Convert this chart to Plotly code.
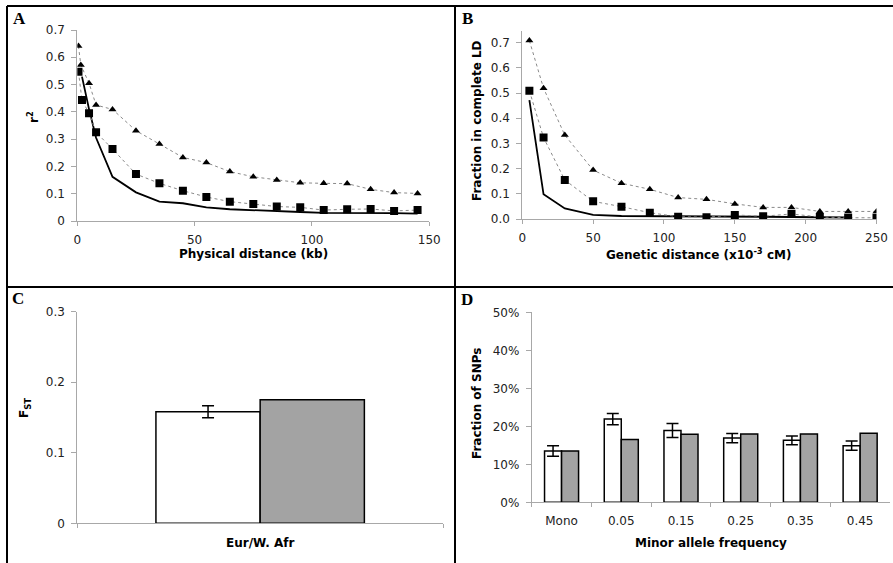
import plotly.graph_objects as go

W, H = 893, 563

# ---------------- Data ----------------
# Panel A: r^2 vs physical distance (kb)
a_tri_x = [0.5, 1.5, 5, 8, 15, 25, 35, 45, 55, 65, 75, 85, 95, 105, 115, 125, 135, 145]
a_tri_y = [0.641, 0.572, 0.505, 0.425, 0.409, 0.331, 0.282, 0.233, 0.214, 0.181, 0.162,
           0.150, 0.140, 0.138, 0.137, 0.116, 0.104, 0.101]
a_sq_x = [0.5, 2, 5, 8, 15, 25, 35, 45, 55, 65, 75, 85, 95, 105, 115, 125, 135, 145]
a_sq_y = [0.547, 0.443, 0.395, 0.325, 0.264, 0.172, 0.138, 0.111, 0.088, 0.071, 0.062,
          0.053, 0.050, 0.040, 0.043, 0.044, 0.037, 0.040]
a_line_x = [2, 5, 8, 15, 25, 35, 45, 55, 65, 75, 85, 95, 105, 115, 125, 135, 145]
a_line_y = [0.529, 0.41, 0.305, 0.162, 0.105, 0.071, 0.065, 0.050, 0.043, 0.039, 0.037,
            0.033, 0.030, 0.030, 0.030, 0.029, 0.027]

# Panel B: fraction in complete LD vs genetic distance
b_x = [5, 15, 30, 50, 70, 90, 110, 130, 150, 170, 190, 210, 230, 250]
b_tri_y = [0.708, 0.519, 0.333, 0.194, 0.142, 0.118, 0.085, 0.078, 0.060, 0.046, 0.046,
           0.030, 0.030, 0.030]
b_sq_y = [0.509, 0.323, 0.155, 0.070, 0.049, 0.025, 0.009, 0.007, 0.016, 0.011, 0.020,
          0.008, 0.005, 0.005]
b_line_x = [5, 15, 30, 50, 70, 90, 110, 130, 150, 170, 190, 210, 230]
b_line_y = [0.472, 0.098, 0.042, 0.016, 0.012, 0.012, 0.010, 0.009, 0.010, 0.009, 0.008,
            0.007, 0.006]

# Panel C: Fst
c_cat = ["Eur/W. Afr"]
c_obs = [0.158]
c_obs_err = [0.0085]
c_sim = [0.175]

# Panel D: MAF spectrum (%)
d_cat = ["Mono", "0.05", "0.15", "0.25", "0.35", "0.45"]
d_obs = [13.5, 21.9, 18.9, 16.9, 16.3, 14.9]
d_obs_err = [1.4, 1.5, 1.85, 1.2, 1.15, 1.2]
d_sim = [13.5, 16.5, 17.9, 18.0, 18.0, 18.2]

# ---------------- Helpers ----------------
def px(v):
    return v / W

def py(v):
    return 1 - v / H

FONT = "DejaVu Sans"
TICKC = "#222222"
AXC = "#a8a8a8"
GRAYBAR = "#a3a3a3"

fig = go.Figure()

def dashed(x, y, xa, ya, sym, size):
    fig.add_trace(go.Scatter(
        x=x, y=y, xaxis=xa, yaxis=ya, mode="lines+markers",
        line=dict(color="#8a8a8a", width=1, dash="3px,3px"),
        marker=dict(symbol=sym, size=size, color="black"),
        showlegend=False, hoverinfo="skip"))

def solid(x, y, xa, ya):
    fig.add_trace(go.Scatter(
        x=x, y=y, xaxis=xa, yaxis=ya, mode="lines",
        line=dict(color="black", width=1.8),
        showlegend=False, hoverinfo="skip"))

# Panel A
solid(a_line_x, a_line_y, "x", "y")
dashed(a_tri_x, a_tri_y, "x", "y", "triangle-up", 7)
dashed(a_sq_x, a_sq_y, "x", "y", "square", 8)

# Panel B
solid(b_line_x, b_line_y, "x2", "y2")
dashed(b_x, b_tri_y, "x2", "y2", "triangle-up", 7)
dashed(b_x, b_sq_y, "x2", "y2", "square", 8)

# Panel C
fig.add_trace(go.Bar(x=c_cat, y=c_obs, xaxis="x3", yaxis="y3", offsetgroup="o",
                     marker=dict(color="white", line=dict(color="black", width=1.5)),
                     error_y=dict(type="data", array=c_obs_err, color="black",
                                  thickness=1.5, width=6),
                     showlegend=False, hoverinfo="skip"))
fig.add_trace(go.Bar(x=c_cat, y=c_sim, xaxis="x3", yaxis="y3", offsetgroup="s",
                     marker=dict(color=GRAYBAR, line=dict(color="black", width=1.5)),
                     showlegend=False, hoverinfo="skip"))

# Panel D
fig.add_trace(go.Bar(x=d_cat, y=d_obs, xaxis="x4", yaxis="y4", offsetgroup="o",
                     marker=dict(color="white", line=dict(color="black", width=1.5)),
                     error_y=dict(type="data", array=d_obs_err, color="black",
                                  thickness=1.5, width=6),
                     showlegend=False, hoverinfo="skip"))
fig.add_trace(go.Bar(x=d_cat, y=d_sim, xaxis="x4", yaxis="y4", offsetgroup="s",
                     marker=dict(color=GRAYBAR, line=dict(color="black", width=1.5)),
                     showlegend=False, hoverinfo="skip"))

tickfont = dict(family=FONT, size=12, color=TICKC)

def xax(dom, rng=None, dtick=None, anchor="y", **kw):
    d = dict(domain=[px(dom[0]), px(dom[1])], anchor=anchor, showgrid=False,
             zeroline=False, showline=True, linecolor=AXC, linewidth=1,
             ticks="outside", ticklen=4, tickcolor=AXC, tickfont=tickfont,
             ticklabelstandoff=4, automargin=False, fixedrange=True)
    if rng is not None:
        d["range"] = rng
    if dtick is not None:
        d["dtick"] = dtick
        d["tick0"] = 0
    d.update(kw)
    return d

def yax(dom_px, rng, dtick, anchor, **kw):
    d = dict(domain=[py(dom_px[0]), py(dom_px[1])], anchor=anchor, range=rng,
             dtick=dtick, tick0=0, showgrid=False, zeroline=False, showline=True,
             linecolor=AXC, linewidth=1, ticks="outside", ticklen=5, tickcolor=AXC,
             tickfont=tickfont, ticklabelstandoff=4, automargin=False, fixedrange=True)
    d.update(kw)
    return d

fig.update_layout(
    # Panel A: y 0 at 221, 0.7 at 30
    xaxis=xax((77.3, 429.3), [0, 150], 50, "y"),
    yaxis=yax((221, 30), [0, 0.7], 0.1, "x", tickformat=".1~f"),
    # Panel B: y 0 at 219, 0.7 at 42.7 -> top 0.745 at 31.3
    xaxis2=xax((522.3, 876.5), [0, 250], 50, "y2"),
    yaxis2=yax((219, 31.3), [0, 0.745], 0.1, "x2", tickformat=".1f"),
    # Panel C
    xaxis3=xax((77.3, 443), None, None, "y3", showticklabels=False,
               tickson="boundaries", type="category"),
    yaxis3=yax((523.3, 311.7), [0, 0.3], 0.1, "x3", tickformat=".1~f"),
    # Panel D
    xaxis4=xax((531.7, 890), None, None, "y4", tickson="boundaries",
               type="category", ticklabelstandoff=7),
    yaxis4=yax((502.3, 312.3), [0, 50], 10, "x4", ticksuffix="%"),
    barmode="group", bargap=0.43, bargroupgap=0,
    width=W, height=H, margin=dict(l=0, r=0, t=0, b=0),
    paper_bgcolor="white", plot_bgcolor="white",
)

# Panel frame lines
line = dict(color="black", width=2)
fig.add_shape(type="line", xref="paper", yref="paper", x0=px(7), x1=1, y0=py(6), y1=py(6), line=line)
fig.add_shape(type="line", xref="paper", yref="paper", x0=px(7), x1=px(7), y0=py(6), y1=0, line=line)
fig.add_shape(type="line", xref="paper", yref="paper", x0=px(455), x1=px(455), y0=py(6), y1=0, line=line)
fig.add_shape(type="line", xref="paper", yref="paper", x0=px(7), x1=1, y0=py(287), y1=py(287), line=line)

# Panel letters
for letter, x, y in [("A", 19, 19), ("B", 467, 19), ("C", 18, 298), ("D", 467, 299)]:
    fig.add_annotation(text=f"<b>{letter}</b>", x=px(x), y=py(y), xref="paper", yref="paper",
                       showarrow=False, xanchor="center", yanchor="middle",
                       font=dict(family="Liberation Serif", size=17, color="black"))

titlefont = dict(family=FONT, size=12, color="black")

def title(text, x, y, angle=0):
    fig.add_annotation(text=f"<b>{text}</b>", x=px(x), y=py(y), xref="paper", yref="paper",
                       showarrow=False, xanchor="center", yanchor="middle",
                       textangle=angle, font=titlefont)

title("Physical distance (kb)", 253, 254)
title("r<sup>2</sup>", 33, 117, -90)
title("Genetic distance (x10<sup>-3</sup> cM)", 698, 254)
title("Fraction in complete LD", 477, 121, -90)
title("F<sub>ST</sub>", 25, 408, -90)
title("Eur/W. Afr", 260, 543)
title("Fraction of SNPs", 477, 404, -90)
title("Minor allele frequency", 711, 543)

fig.write_html(
    "out.html",
    config={"displayModeBar": False},
    post_script="document.body.style.margin='0';document.body.style.overflow='hidden';",
)
